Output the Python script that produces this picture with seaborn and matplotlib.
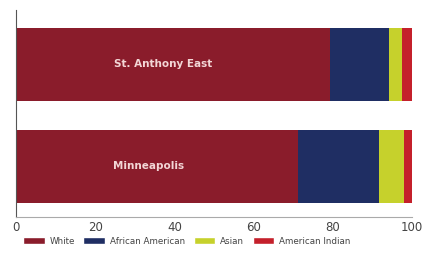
import pandas as pd
import matplotlib.pyplot as plt
import seaborn as sns
from matplotlib.patches import Patch

# Data (percent of population)
places = ['St. Anthony East', 'Minneapolis']
groups = ['White', 'African American', 'Asian', 'American Indian']
white = [79.3, 71.2]
african_american = [14.9, 20.5]
asian = [3.3, 6.3]
american_indian = [2.5, 2.0]

colors = ['#8a1c2b', '#1f2e63', '#c6d12c', '#c4202b']

df = pd.DataFrame({'place': places, 'White': white,
                   'African American': african_american,
                   'Asian': asian, 'American Indian': american_indian})

# cumulative totals so the stacked bars can be drawn back to front
cum = df[groups].cumsum(axis=1)

sns.set_style('white')
plt.rcParams['font.family'] = ['DejaVu Sans']

fig = plt.figure(figsize=(4.22, 2.54), dpi=100)
ax = fig.add_axes([16 / 422, 1 - 217 / 254, 396 / 422, 207 / 254])

for g, c in reversed(list(zip(groups, colors))):
    sns.barplot(x=cum[g], y=df['place'], orient='h', color=c,
                width=0.716, ax=ax, saturation=1, linewidth=0)

for i, p in enumerate(places):
    ax.text(white[i] * 0.47, i, p, color='#f3d6d6', fontsize=7.5,
            ha='center', va='center', fontweight='bold')

ax.set_xlim(0, 100)
ax.set_ylim(1.495, -0.534)
ax.set_xticks([0, 20, 40, 60, 80, 100])
ax.set_yticks([])
ax.set_xlabel('')
ax.set_ylabel('')
ax.tick_params(axis='x', labelsize=8.5, colors='#444444', length=3,
               direction='in', pad=3)
for s in ['top', 'right']:
    ax.spines[s].set_visible(False)
ax.spines['left'].set_color('#555555')
ax.spines['left'].set_linewidth(0.8)
ax.spines['bottom'].set_color('#aaaaaa')
ax.spines['bottom'].set_linewidth(0.8)

handles = [Patch(facecolor=c, label=g) for g, c in zip(groups, colors)]
fig.legend(handles=handles, loc='center left', bbox_to_anchor=(23 / 422, 1 - 241 / 254),
           ncol=4, frameon=False, fontsize=6.3, handlelength=2.5,
           handleheight=0.9, columnspacing=1.0, handletextpad=0.5,
           labelcolor='#444444', borderaxespad=0, borderpad=0)

fig.savefig('out.png', dpi=100)
